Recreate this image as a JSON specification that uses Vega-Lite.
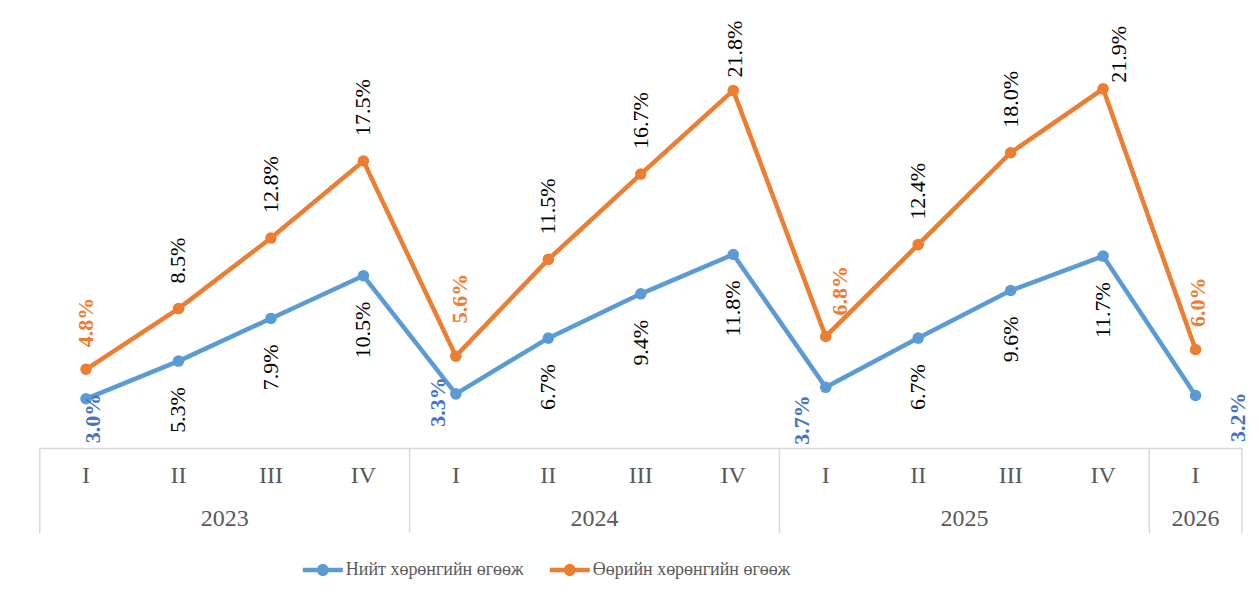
{
  "$schema": "https://vega.github.io/schema/vega-lite/v6.json",
  "background": "white",
  "padding": {"left": 38.8, "top": 15, "right": 0, "bottom": 0},
  "bounds": "flush",
  "spacing": 0,
  "config": {
    "view": {"stroke": null},
    "axis": {"domainColor": "#D9D9D9", "domainWidth": 1.5}
  },
  "data": {
    "values": [
      {"period": "2023 I", "year": "2023", "q": "I", "series": "Нийт хөрөнгийн өгөөж", "value": 3.0, "label": "3.0%"},
      {"period": "2023 II", "year": "2023", "q": "II", "series": "Нийт хөрөнгийн өгөөж", "value": 5.3, "label": "5.3%"},
      {"period": "2023 III", "year": "2023", "q": "III", "series": "Нийт хөрөнгийн өгөөж", "value": 7.9, "label": "7.9%"},
      {"period": "2023 IV", "year": "2023", "q": "IV", "series": "Нийт хөрөнгийн өгөөж", "value": 10.5, "label": "10.5%"},
      {"period": "2024 I", "year": "2024", "q": "I", "series": "Нийт хөрөнгийн өгөөж", "value": 3.3, "label": "3.3%"},
      {"period": "2024 II", "year": "2024", "q": "II", "series": "Нийт хөрөнгийн өгөөж", "value": 6.7, "label": "6.7%"},
      {"period": "2024 III", "year": "2024", "q": "III", "series": "Нийт хөрөнгийн өгөөж", "value": 9.4, "label": "9.4%"},
      {"period": "2024 IV", "year": "2024", "q": "IV", "series": "Нийт хөрөнгийн өгөөж", "value": 11.8, "label": "11.8%"},
      {"period": "2025 I", "year": "2025", "q": "I", "series": "Нийт хөрөнгийн өгөөж", "value": 3.7, "label": "3.7%"},
      {"period": "2025 II", "year": "2025", "q": "II", "series": "Нийт хөрөнгийн өгөөж", "value": 6.7, "label": "6.7%"},
      {"period": "2025 III", "year": "2025", "q": "III", "series": "Нийт хөрөнгийн өгөөж", "value": 9.6, "label": "9.6%"},
      {"period": "2025 IV", "year": "2025", "q": "IV", "series": "Нийт хөрөнгийн өгөөж", "value": 11.7, "label": "11.7%"},
      {"period": "2026 I", "year": "2026", "q": "I", "series": "Нийт хөрөнгийн өгөөж", "value": 3.2, "label": "3.2%"},
      {"period": "2023 I", "year": "2023", "q": "I", "series": "Өөрийн хөрөнгийн өгөөж", "value": 4.8, "label": "4.8%"},
      {"period": "2023 II", "year": "2023", "q": "II", "series": "Өөрийн хөрөнгийн өгөөж", "value": 8.5, "label": "8.5%"},
      {"period": "2023 III", "year": "2023", "q": "III", "series": "Өөрийн хөрөнгийн өгөөж", "value": 12.8, "label": "12.8%"},
      {"period": "2023 IV", "year": "2023", "q": "IV", "series": "Өөрийн хөрөнгийн өгөөж", "value": 17.5, "label": "17.5%"},
      {"period": "2024 I", "year": "2024", "q": "I", "series": "Өөрийн хөрөнгийн өгөөж", "value": 5.6, "label": "5.6%"},
      {"period": "2024 II", "year": "2024", "q": "II", "series": "Өөрийн хөрөнгийн өгөөж", "value": 11.5, "label": "11.5%"},
      {"period": "2024 III", "year": "2024", "q": "III", "series": "Өөрийн хөрөнгийн өгөөж", "value": 16.7, "label": "16.7%"},
      {"period": "2024 IV", "year": "2024", "q": "IV", "series": "Өөрийн хөрөнгийн өгөөж", "value": 21.8, "label": "21.8%"},
      {"period": "2025 I", "year": "2025", "q": "I", "series": "Өөрийн хөрөнгийн өгөөж", "value": 6.8, "label": "6.8%"},
      {"period": "2025 II", "year": "2025", "q": "II", "series": "Өөрийн хөрөнгийн өгөөж", "value": 12.4, "label": "12.4%"},
      {"period": "2025 III", "year": "2025", "q": "III", "series": "Өөрийн хөрөнгийн өгөөж", "value": 18.0, "label": "18.0%"},
      {"period": "2025 IV", "year": "2025", "q": "IV", "series": "Өөрийн хөрөнгийн өгөөж", "value": 21.9, "label": "21.9%"},
      {"period": "2026 I", "year": "2026", "q": "I", "series": "Өөрийн хөрөнгийн өгөөж", "value": 6.0, "label": "6.0%"}
    ]
  },
  "resolve": {"scale": {"x": "independent", "y": "independent"}},
  "vconcat": [
    {
      "width": 1202,
      "height": 433,
      "encoding": {
        "x": {"field": "period", "type": "ordinal", "axis": null,
              "scale": {"type": "point", "padding": 0.5, "domain": ["2023 I","2023 II","2023 III","2023 IV","2024 I","2024 II","2024 III","2024 IV","2025 I","2025 II","2025 III","2025 IV","2026 I"]}},
        "y": {"field": "value", "type": "quantitative", "axis": null, "scale": {"domain": [0, 26.4], "nice": false, "zero": false}}
      },
      "layer": [
        {
          "mark": {"type": "line", "strokeWidth": 4.5, "point": {"filled": true, "size": 133, "opacity": 1}},
          "encoding": {
            "color": {"field": "series", "type": "nominal",
              "scale": {"domain": ["Нийт хөрөнгийн өгөөж", "Өөрийн хөрөнгийн өгөөж"], "range": ["#5B9BD5", "#ED7D31"]},
              "legend": {"orient": "none", "legendX": 273, "legendY": 545, "direction": "horizontal", "title": null,
                "symbolType": "M-2,-0.22L2,-0.22L2,0.22L-2,0.22Z M0.6,0A0.6,0.6,0,1,1,-0.6,0A0.6,0.6,0,1,1,0.6,0Z",
                "symbolSize": 400, "symbolStrokeWidth": 0, "labelOffset": 13, "columnPadding": 26,
                "labelFont": "Liberation Serif", "labelFontSize": 18, "labelColor": "#595959", "labelLimit": 400,
                "encode": {"symbols": {"update": {"fill": {"scale": "color", "field": "value"}, "fillOpacity": {"value": 1}, "strokeWidth": {"value": 0}}}}}
            }
          }
        },
        {
          "transform": [{"filter": "datum.series == 'Нийт хөрөнгийн өгөөж' && datum.q != 'I'"}],
          "mark": {"type": "text", "angle": 270, "align": "right", "baseline": "middle", "dx": -26, "font": "Liberation Serif", "fontSize": 22, "color": "#000000"},
          "encoding": {"text": {"field": "label"}}
        },
        {
          "transform": [{"filter": "datum.series == 'Өөрийн хөрөнгийн өгөөж' && datum.q != 'I' && datum.period != '2024 IV' && datum.period != '2025 IV'"}],
          "mark": {"type": "text", "angle": 270, "align": "left", "baseline": "middle", "dx": 25, "font": "Liberation Serif", "fontSize": 22, "color": "#000000"},
          "encoding": {"text": {"field": "label"}}
        },
        {
          "transform": [{"filter": "datum.series == 'Өөрийн хөрөнгийн өгөөж' && datum.period == '2024 IV'"}],
          "mark": {"type": "text", "angle": 270, "align": "left", "baseline": "middle", "dx": 13, "dy": 2, "font": "Liberation Serif", "fontSize": 22, "color": "#000000"},
          "encoding": {"text": {"field": "label"}}
        },
        {
          "transform": [{"filter": "datum.series == 'Өөрийн хөрөнгийн өгөөж' && datum.period == '2025 IV'"}],
          "mark": {"type": "text", "angle": 270, "align": "left", "baseline": "middle", "dx": 6, "dy": 16, "font": "Liberation Serif", "fontSize": 22, "color": "#000000"},
          "encoding": {"text": {"field": "label"}}
        },
        {
          "transform": [{"filter": "datum.series == 'Нийт хөрөнгийн өгөөж' && datum.period == '2023 I'"}],
          "mark": {"type": "text", "angle": 270, "align": "right", "baseline": "middle", "dx": 5, "dy": 7, "font": "Liberation Serif", "fontSize": 22, "fontWeight": "bold", "color": "#4472C4"},
          "encoding": {"text": {"field": "label"}}
        },
        {
          "transform": [{"filter": "datum.series == 'Нийт хөрөнгийн өгөөж' && datum.period == '2024 I'"}],
          "mark": {"type": "text", "angle": 270, "align": "right", "baseline": "middle", "dx": 16.6, "dy": -17.6, "font": "Liberation Serif", "fontSize": 22, "fontWeight": "bold", "color": "#4472C4"},
          "encoding": {"text": {"field": "label"}}
        },
        {
          "transform": [{"filter": "datum.series == 'Нийт хөрөнгийн өгөөж' && datum.period == '2025 I'"}],
          "mark": {"type": "text", "angle": 270, "align": "right", "baseline": "middle", "dx": -8, "dy": -24, "font": "Liberation Serif", "fontSize": 22, "fontWeight": "bold", "color": "#4472C4"},
          "encoding": {"text": {"field": "label"}}
        },
        {
          "transform": [{"filter": "datum.series == 'Нийт хөрөнгийн өгөөж' && datum.period == '2026 I'"}],
          "mark": {"type": "text", "angle": 270, "align": "right", "baseline": "middle", "dx": 3, "dy": 42, "font": "Liberation Serif", "fontSize": 22, "fontWeight": "bold", "color": "#4472C4"},
          "encoding": {"text": {"field": "label"}}
        },
        {
          "transform": [{"filter": "datum.series == 'Өөрийн хөрөнгийн өгөөж' && datum.period == '2023 I'"}],
          "mark": {"type": "text", "angle": 270, "align": "left", "baseline": "middle", "dx": 22, "dy": 0, "font": "Liberation Serif", "fontSize": 22, "fontWeight": "bold", "color": "#ED7D31"},
          "encoding": {"text": {"field": "label"}}
        },
        {
          "transform": [{"filter": "datum.series == 'Өөрийн хөрөнгийн өгөөж' && datum.period == '2024 I'"}],
          "mark": {"type": "text", "angle": 270, "align": "left", "baseline": "middle", "dx": 33, "dy": 4, "font": "Liberation Serif", "fontSize": 22, "fontWeight": "bold", "color": "#ED7D31"},
          "encoding": {"text": {"field": "label"}}
        },
        {
          "transform": [{"filter": "datum.series == 'Өөрийн хөрөнгийн өгөөж' && datum.period == '2025 I'"}],
          "mark": {"type": "text", "angle": 270, "align": "left", "baseline": "middle", "dx": 21, "dy": 14, "font": "Liberation Serif", "fontSize": 22, "fontWeight": "bold", "color": "#ED7D31"},
          "encoding": {"text": {"field": "label"}}
        },
        {
          "transform": [{"filter": "datum.series == 'Өөрийн хөрөнгийн өгөөж' && datum.period == '2026 I'"}],
          "mark": {"type": "text", "angle": 270, "align": "left", "baseline": "middle", "dx": 22.6, "dy": 2, "font": "Liberation Serif", "fontSize": 22, "fontWeight": "bold", "color": "#ED7D31"},
          "encoding": {"text": {"field": "label"}}
        }
      ]
    },
    {
      "width": 1202,
      "height": 85,
      "transform": [{"filter": "datum.series == 'Нийт хөрөнгийн өгөөж'"}],
      "encoding": {
        "x": {"field": "period", "type": "ordinal",
              "scale": {"type": "band", "paddingInner": 0, "paddingOuter": 0, "domain": ["2023 I","2023 II","2023 III","2023 IV","2024 I","2024 II","2024 III","2024 IV","2025 I","2025 II","2025 III","2025 IV","2026 I"]},
              "axis": {"orient": "top", "labels": false, "ticks": false, "domain": true, "grid": false, "title": null}}
      },
      "layer": [
        {
          "transform": [{"filter": "datum.q == 'I'"}],
          "mark": {"type": "rule", "color": "#D9D9D9", "strokeWidth": 1.5},
          "encoding": {"x": {"field": "period", "type": "ordinal", "bandPosition": 0}}
        },
        {
          "transform": [{"filter": "datum.period == '2026 I'"}],
          "mark": {"type": "rule", "color": "#D9D9D9", "strokeWidth": 1.5},
          "encoding": {"x": {"field": "period", "type": "ordinal", "bandPosition": 1}}
        },
        {
          "mark": {"type": "text", "baseline": "middle", "dy": 7, "font": "Liberation Serif", "fontSize": 24, "color": "#595959"},
          "encoding": {
            "y": {"datum": "q", "type": "nominal", "scale": {"type": "band", "domain": ["q", "y"], "paddingInner": 0, "paddingOuter": 0}, "axis": null},
            "text": {"field": "q"}
          }
        },
        {
          "transform": [{"filter": "datum.q == 'II'"}],
          "mark": {"type": "text", "baseline": "middle", "dy": 7, "font": "Liberation Serif", "fontSize": 24, "color": "#595959"},
          "encoding": {
            "x": {"field": "period", "type": "ordinal", "bandPosition": 1},
            "y": {"datum": "y", "type": "nominal"},
            "text": {"field": "year"}
          }
        },
        {
          "transform": [{"filter": "datum.period == '2026 I'"}],
          "mark": {"type": "text", "baseline": "middle", "dy": 7, "font": "Liberation Serif", "fontSize": 24, "color": "#595959"},
          "encoding": {
            "y": {"datum": "y", "type": "nominal"},
            "text": {"field": "year"}
          }
        }
      ]
    }
  ]
}
